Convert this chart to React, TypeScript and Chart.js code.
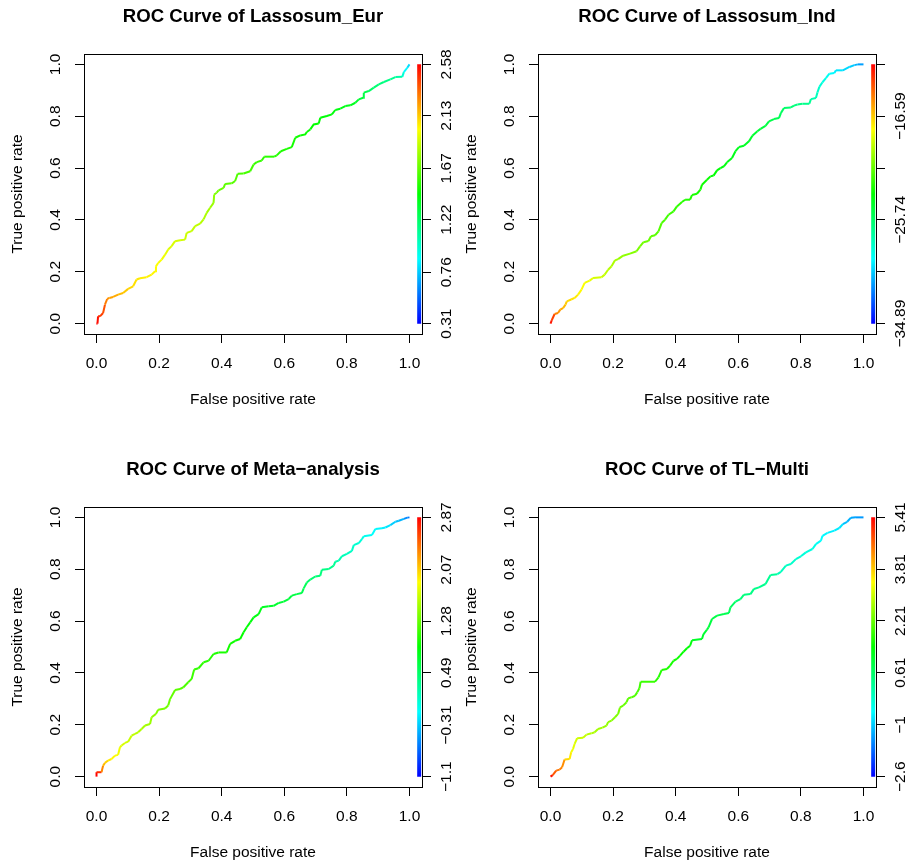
import React, { useEffect, useRef } from 'react';
import { Chart, registerables } from 'chart.js';
Chart.register(...registerables);

const FAMILY = "'Liberation Sans', Arial, Helvetica, sans-serif";
const TICK_SIZE = 15.5;
const TITLE_SIZE = 18.6;

const TITLES = ['ROC Curve of Lassosum_Eur', 'ROC Curve of Lassosum_Ind', 'ROC Curve of Meta\u2212analysis', 'ROC Curve of TL\u2212Multi'];
const X_LABEL = 'False positive rate';
const Y_LABEL = 'True positive rate';
const X_TICKS = [0, 0.2, 0.4, 0.6, 0.8, 1.0];
const Y_TICKS = [0, 0.2, 0.4, 0.6, 0.8, 1.0];

// colour-bar (cutoff) axis ticks and labels
const CUT_TICKS_EUR = [0.31, 0.76, 1.22, 1.67, 2.13, 2.58];
const CUT_LABELS_EUR = ['0.31', '0.76', '1.22', '1.67', '2.13', '2.58'];
const CUT_TICKS_IND = [-34.89, -30.32, -25.74, -21.17, -16.59, -12.02];
const CUT_LABELS_IND = ['\u221234.89', '', '\u221225.74', '', '\u221216.59', ''];
const CUT_TICKS_META = [-1.1, -0.31, 0.49, 1.28, 2.07, 2.87];
const CUT_LABELS_META = ['\u22121.1', '\u22120.31', '0.49', '1.28', '2.07', '2.87'];
const CUT_TICKS_TL = [-2.6, -1, 0.61, 2.21, 3.81, 5.41];
const CUT_LABELS_TL = ['\u22122.6', '\u22121', '0.61', '2.21', '3.81', '5.41'];

// Lassosum_Eur
const FPR_EUR = [0, .003, .005, .011, .021, .027, .034, .041, .053, .069, .085, .101, .117, .128, .139, .160, .176, .187, .190, .197, .208, .219, .229, .240, .251, .267, .283, .288, .304, .315, .331, .342, .352, .363, .374, .376, .384, .390, .406, .411, .432, .443, .451, .470, .491, .502, .512, .528, .536, .568, .576, .589, .608, .624, .635, .651, .667, .672, .683, .694, .710, .715, .736, .752, .763, .779, .795, .811, .827, .838, .852, .854, .870, .886, .902, .918, .939, .955, .977, .982, .993, 1];
const TPR_EUR = [0, 0, .028, .028, .041, .073, .095, .099, .103, .112, .118, .134, .144, .170, .175, .179, .189, .202, .221, .234, .247, .266, .286, .299, .318, .322, .324, .350, .357, .376, .386, .402, .427, .447, .466, .498, .505, .514, .524, .539, .541, .550, .578, .579, .588, .614, .623, .629, .644, .644, .649, .665, .674, .681, .717, .726, .730, .739, .749, .768, .772, .794, .801, .807, .824, .829, .839, .842, .852, .865, .871, .891, .897, .910, .923, .932, .942, .951, .952, .970, .987, 1];
const CUT_EUR = [2.58, 2.55, 2.48, 2.44, 2.40, 2.30, 2.25, 2.22, 2.20, 2.16, 2.13, 2.10, 2.08, 2.06, 2.05, 2.04, 2.03, 2.02, 2.01, 2.00, 1.98, 1.96, 1.94, 1.93, 1.92, 1.91, 1.90, 1.89, 1.88, 1.87, 1.85, 1.83, 1.81, 1.79, 1.76, 1.72, 1.70, 1.68, 1.66, 1.65, 1.64, 1.63, 1.61, 1.60, 1.59, 1.57, 1.56, 1.55, 1.54, 1.53, 1.52, 1.51, 1.50, 1.49, 1.48, 1.47, 1.47, 1.46, 1.45, 1.45, 1.44, 1.43, 1.43, 1.42, 1.41, 1.40, 1.39, 1.38, 1.35, 1.32, 1.30, 1.28, 1.22, 1.19, 1.17, 1.15, 1.12, 1.08, 0.97, 0.87, 0.80, 0.70];

// Lassosum_Ind
const FPR_IND = [0, .004, .013, .024, .031, .040, .048, .052, .066, .077, .088, .099, .109, .125, .136, .163, .173, .184, .195, .206, .216, .232, .254, .275, .286, .297, .313, .321, .334, .345, .355, .366, .377, .393, .404, .420, .430, .446, .452, .468, .479, .484, .500, .511, .521, .532, .543, .554, .564, .580, .591, .602, .618, .634, .645, .661, .671, .687, .698, .714, .730, .736, .746, .768, .778, .789, .805, .827, .832, .848, .853, .859, .869, .880, .891, .907, .912, .934, .955, .971, .982, 1];
const TPR_IND = [0, .013, .037, .041, .054, .060, .073, .086, .093, .099, .112, .131, .157, .166, .176, .179, .189, .208, .221, .244, .249, .262, .270, .279, .298, .314, .319, .337, .341, .356, .388, .401, .420, .433, .452, .469, .478, .478, .496, .501, .517, .536, .555, .568, .571, .591, .600, .607, .622, .639, .665, .681, .686, .703, .725, .742, .751, .763, .780, .789, .793, .812, .832, .834, .841, .845, .848, .848, .866, .870, .892, .913, .931, .947, .964, .967, .977, .977, .990, .997, 1, 1];
const CUT_IND = [-12.5, -13.5, -15.0, -15.4, -15.8, -16.2, -16.6, -16.9, -17.1, -17.3, -17.6, -17.8, -18.0, -18.3, -18.7, -19.0, -19.2, -19.4, -19.6, -19.8, -20.1, -20.3, -20.5, -20.7, -20.9, -21.0, -21.2, -21.3, -21.5, -21.6, -21.8, -22.0, -22.1, -22.3, -22.4, -22.6, -22.7, -22.8, -22.9, -23.0, -23.1, -23.2, -23.3, -23.4, -23.5, -23.6, -23.7, -23.8, -23.9, -24.0, -24.1, -24.2, -24.3, -24.4, -24.5, -24.7, -24.8, -25.0, -25.1, -25.3, -25.4, -25.6, -25.9, -26.1, -26.3, -26.4, -26.6, -26.8, -27.4, -27.7, -28.0, -28.3, -28.6, -28.9, -29.2, -29.5, -29.7, -30.0, -30.3, -30.8, -31.3, -32.0];

// Meta-analysis
const FPR_META = [0, 0, .016, .021, .027, .037, .048, .059, .069, .075, .080, .091, .101, .112, .123, .133, .144, .155, .171, .176, .190, .197, .219, .229, .235, .251, .267, .277, .293, .304, .312, .326, .342, .358, .374, .390, .416, .427, .443, .459, .470, .480, .491, .502, .518, .528, .550, .566, .582, .598, .614, .624, .640, .656, .662, .672, .683, .699, .715, .720, .742, .758, .763, .774, .784, .800, .816, .822, .838, .848, .854, .880, .891, .912, .923, .939, .955, .966, .982, .993, 1];
const TPR_META = [0, .017, .017, .042, .053, .062, .068, .081, .084, .113, .120, .130, .135, .158, .165, .171, .184, .197, .203, .229, .242, .258, .263, .274, .299, .334, .338, .344, .364, .377, .413, .418, .441, .447, .473, .479, .479, .512, .524, .531, .557, .576, .595, .614, .627, .653, .657, .659, .670, .675, .685, .698, .704, .708, .726, .749, .760, .772, .775, .798, .801, .814, .829, .833, .850, .859, .871, .893, .901, .916, .927, .932, .955, .958, .961, .970, .983, .987, .994, .999, 1];
const CUT_META = [2.87, 2.70, 2.35, 2.15, 2.05, 1.95, 1.90, 1.86, 1.82, 1.78, 1.72, 1.69, 1.66, 1.63, 1.60, 1.57, 1.54, 1.51, 1.48, 1.45, 1.40, 1.36, 1.33, 1.30, 1.27, 1.24, 1.21, 1.18, 1.15, 1.12, 1.08, 1.06, 1.04, 1.02, 1.00, 0.98, 0.96, 0.94, 0.92, 0.90, 0.88, 0.86, 0.84, 0.82, 0.80, 0.75, 0.72, 0.70, 0.68, 0.66, 0.64, 0.62, 0.60, 0.58, 0.55, 0.48, 0.45, 0.42, 0.40, 0.37, 0.34, 0.31, 0.22, 0.19, 0.16, 0.13, 0.10, 0.07, 0.04, 0.01, -0.06, -0.10, -0.13, -0.17, -0.21, -0.30, -0.35, -0.40, -0.55, -0.62, -0.70];

// TL-Multi
const FPR_TL = [0, .007, .018, .029, .037, .045, .061, .066, .072, .077, .085, .104, .115, .131, .141, .152, .166, .179, .184, .195, .206, .216, .222, .232, .243, .248, .259, .270, .277, .284, .288, .334, .345, .355, .372, .382, .393, .404, .414, .425, .436, .446, .452, .484, .489, .500, .505, .516, .532, .554, .570, .575, .591, .607, .618, .639, .650, .666, .687, .703, .725, .736, .752, .768, .784, .800, .816, .837, .848, .864, .869, .885, .907, .923, .934, .948, .960, .976, 1];
const TPR_TL = [0, .006, .023, .027, .036, .066, .068, .094, .107, .126, .148, .150, .162, .167, .171, .184, .189, .197, .210, .216, .229, .242, .267, .274, .287, .302, .306, .312, .325, .341, .366, .366, .383, .411, .415, .428, .447, .454, .467, .482, .495, .505, .526, .531, .550, .567, .576, .608, .621, .627, .631, .653, .675, .685, .702, .704, .724, .730, .743, .778, .781, .790, .814, .820, .839, .850, .865, .878, .897, .910, .929, .940, .949, .959, .974, .983, .999, 1, 1];
const CUT_TL = [5.25, 4.7, 4.5, 4.4, 4.3, 3.7, 3.55, 3.3, 3.2, 3.1, 3.0, 2.95, 2.85, 2.78, 2.72, 2.66, 2.60, 2.55, 2.50, 2.45, 2.40, 2.35, 2.25, 2.20, 2.15, 2.10, 2.05, 2.00, 1.95, 1.90, 1.85, 1.72, 1.68, 1.64, 1.60, 1.56, 1.52, 1.48, 1.44, 1.40, 1.36, 1.32, 1.10, 1.05, 1.00, 0.95, 0.90, 0.85, 0.80, 0.75, 0.70, 0.65, 0.50, 0.45, 0.40, 0.36, 0.32, 0.28, 0.24, 0.20, -0.05, -0.10, -0.15, -0.20, -0.25, -0.30, -0.35, -0.40, -0.55, -0.60, -0.65, -0.70, -0.75, -0.80, -1.10, -1.20, -1.30, -1.40, -1.50];

const PANELS = [
  { title: TITLES[0], fpr: FPR_EUR, tpr: TPR_EUR, cut: CUT_EUR, cutTicks: CUT_TICKS_EUR, cutLabels: CUT_LABELS_EUR },
  { title: TITLES[1], fpr: FPR_IND, tpr: TPR_IND, cut: CUT_IND, cutTicks: CUT_TICKS_IND, cutLabels: CUT_LABELS_IND },
  { title: TITLES[2], fpr: FPR_META, tpr: TPR_META, cut: CUT_META, cutTicks: CUT_TICKS_META, cutLabels: CUT_LABELS_META },
  { title: TITLES[3], fpr: FPR_TL, tpr: TPR_TL, cut: CUT_TL, cutTicks: CUT_TICKS_TL, cutLabels: CUT_LABELS_TL },
];

// layout (pixels)
const CW = 455;
const CH = 432;
const POS = [[0, 0], [454, 0], [0, 453], [454, 453]];
const LEFT_W = 84;
const RIGHT_W = 33;
const BOTTOM_H = 98;
const TICK_LEN = 9;
const LEFT_LABEL_OFF = 28;
const RIGHT_LABEL_OFF = 25;
const BAR_X = 1.031;

Chart.defaults.font.family = FAMILY;
Chart.defaults.color = '#000';

function rainbow(t: number) {
  const tt = Math.max(0, Math.min(1, t));
  return `hsl(${240 * (1 - tt)},100%,50%)`;
}

function Panel({ idx }: { idx: number }) {
  const ref = useRef<HTMLCanvasElement>(null);
  useEffect(() => {
    const p = PANELS[idx];
    const cmin = p.cutTicks[0];
    const cmax = p.cutTicks[p.cutTicks.length - 1];
    const rng = cmax - cmin;
    const col = (c: number) => rainbow((c - cmin) / rng);
    const mctx = document.createElement('canvas').getContext('2d')!;
    mctx.font = `normal ${TICK_SIZE}px ${FAMILY}`;
    const wRight = Math.max(...p.cutLabels.map((s) => mctx.measureText(s).width));
    const wLeft = Math.max(...Y_TICKS.map((v) => mctx.measureText(v.toFixed(1)).width));
    const tickFont = { size: TICK_SIZE, family: FAMILY };

    const chart = new Chart(ref.current!, {
      type: 'line',
      data: {
        datasets: [
          {
            data: p.fpr.map((x, i) => ({ x, y: p.tpr[i] })),
            xAxisID: 'x',
            yAxisID: 'y',
            borderWidth: 2,
            pointRadius: 0,
            tension: 0,
            borderColor: col(p.cut[0]),
            segment: { borderColor: (c: any) => col(p.cut[c.p0DataIndex]) },
          } as any,
          {
            data: [{ x: BAR_X, y: cmin }, { x: BAR_X, y: cmax }],
            xAxisID: 'x',
            yAxisID: 'y2',
            borderWidth: 4,
            borderCapStyle: 'butt',
            pointRadius: 0,
            borderColor: (ctx: any) => {
              const ch = ctx.chart;
              const s = ch.scales && ch.scales.y2;
              if (!s || !ch.chartArea) return '#f00';
              const g = ch.ctx.createLinearGradient(0, s.getPixelForValue(cmin), 0, s.getPixelForValue(cmax));
              for (let k = 0; k <= 12; k++) g.addColorStop(k / 12, rainbow(k / 12));
              return g;
            },
          } as any,
        ],
      },
      options: {
        responsive: false,
        animation: false,
        layout: { padding: 0 },
        plugins: {
          legend: { display: false },
          tooltip: { enabled: false },
          title: {
            display: true,
            text: p.title,
            fullSize: false,
            color: '#000',
            font: { size: TITLE_SIZE, weight: 'bold', family: FAMILY },
            padding: { top: 5.84, bottom: 25.84 },
          },
        },
        scales: {
          x: {
            type: 'linear',
            position: 'bottom',
            min: -0.04,
            max: 1.04,
            afterBuildTicks: (s: any) => { s.ticks = X_TICKS.map((value) => ({ value })); },
            afterFit: (s: any) => { s.height = BOTTOM_H; },
            grid: { drawOnChartArea: false, drawTicks: true, tickLength: TICK_LEN, color: '#000', lineWidth: 1 },
            border: { display: true, color: '#000', width: 1 },
            ticks: { autoSkip: false, minRotation: 0, maxRotation: 0, padding: 11.7, font: tickFont, color: '#000', callback: (v: any) => Number(v).toFixed(1) },
            title: { display: true, text: X_LABEL, color: '#000', font: tickFont, padding: { top: 0, bottom: 22.7 } },
          },
          x2: {
            type: 'linear',
            position: 'top',
            min: -0.04,
            max: 1.04,
            afterFit: (s: any) => { s.height = 0; },
            grid: { drawOnChartArea: false, drawTicks: false },
            border: { display: true, color: '#000', width: 1 },
            ticks: { display: false },
          },
          y: {
            type: 'linear',
            position: 'left',
            min: -0.04,
            max: 1.04,
            afterBuildTicks: (s: any) => { s.ticks = Y_TICKS.map((value) => ({ value })); },
            afterFit: (s: any) => { s.width = LEFT_W; },
            grid: { drawOnChartArea: false, drawTicks: true, tickLength: TICK_LEN, color: '#000', lineWidth: 1 },
            border: { display: true, color: '#000', width: 1 },
            ticks: { autoSkip: false, minRotation: 90, maxRotation: 90, crossAlign: 'center', padding: LEFT_LABEL_OFF - TICK_LEN - wLeft / 2, font: tickFont, color: '#000', callback: (v: any) => Number(v).toFixed(1) },
            title: { display: true, text: Y_LABEL, color: '#000', font: tickFont, padding: { top: 8.7, bottom: 0 } },
          },
          y2: {
            type: 'linear',
            position: 'right',
            min: cmin - 0.04 * rng,
            max: cmax + 0.04 * rng,
            afterBuildTicks: (s: any) => { s.ticks = p.cutTicks.map((value) => ({ value })); },
            afterFit: (s: any) => { s.width = RIGHT_W; },
            grid: { drawOnChartArea: false, drawTicks: true, tickLength: TICK_LEN, color: '#000', lineWidth: 1 },
            border: { display: true, color: '#000', width: 1 },
            ticks: { autoSkip: false, minRotation: 90, maxRotation: 90, crossAlign: 'center', padding: RIGHT_LABEL_OFF - TICK_LEN - wRight / 2, font: tickFont, color: '#000', callback: (_v: any, i: number) => p.cutLabels[i] },
          },
        },
      } as any,
    });
    return () => chart.destroy();
  }, [idx]);
  const [l, t] = POS[idx];
  return <canvas ref={ref} width={CW} height={CH} style={{ position: 'absolute', left: l, top: t }} />;
}

export default function App() {
  return (
    <div style={{ position: 'absolute', left: 0, top: 0, width: 910, height: 865, overflow: 'hidden', background: '#fff' }}>
      {PANELS.map((_, i) => <Panel key={i} idx={i} />)}
    </div>
  );
}
